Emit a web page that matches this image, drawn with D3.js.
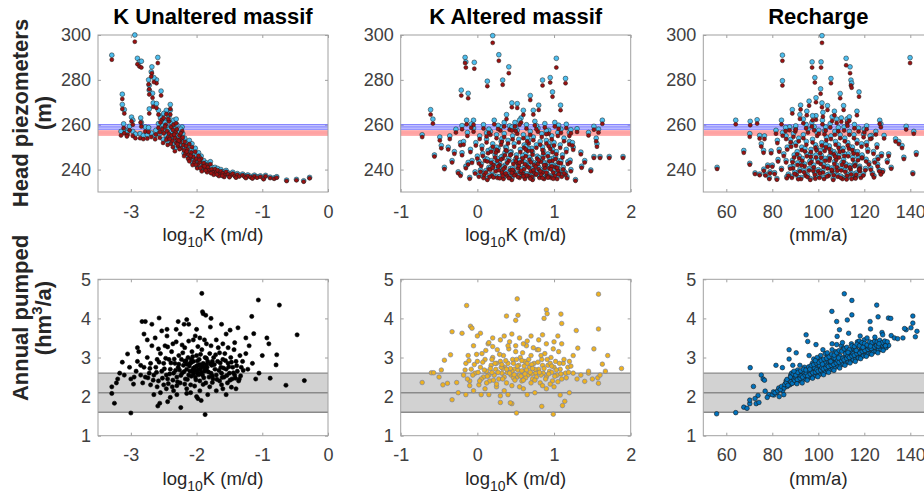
<!DOCTYPE html>
<html>
<head>
<meta charset="utf-8">
<script src="https://cdn.jsdelivr.net/npm/d3@7"></script>
<style>
  body { margin: 0; background: #fff; }
  svg { display: block; }
  text { font-family: "Liberation Sans", Arial, sans-serif; }
</style>
</head>
<body>
<svg id="chart" width="924" height="496"></svg>
<script>
// ----- data -----
// top row: [x, observed head, simulated head]
const kUnalteredHead = [
  [-3.29,291,289],[-2.94,300,297],[-2.90,289.6,287],[-2.87,288,286],[-2.84,288.3,285.5],[-2.59,290,287.5],
  [-2.68,285.8,283],[-2.69,283.6,281.5],[-2.73,280,278],[-2.61,280,278.5],[-2.72,277.6,275.8],[-2.65,281,279],
  [-2.54,275,273],[-2.67,274,272],[-2.72,275.4,273.5],[-2.66,269.7,268],[-2.61,269.4,267.5],[-3.13,273.6,271.5],
  [-3.13,269,267],[-3.10,266.7,265],[-2.40,269,267],[-2.40,266.4,264.5],[-2.46,266.4,264.8],[-2.58,266.4,264.5],
  [-2.53,264,262.2],[-2.72,267,265],[-2.99,263.4,261.5],[-2.97,262,260],[-2.85,263,261],[-2.84,261,259.2],
  [-3.11,260.4,258.5],[-3.02,259.3,257.5],[-3.10,258,256.2],[-3.05,257.2,255.5],[-2.97,257,255],[-2.78,259,257],
  [-2.73,258.7,256.8],[-2.86,256,254],[-2.81,255.2,253.6],[-2.63,255.2,253.5],[-2.56,256,254.2],[-3.06,256.5,254.8],
  [-2.93,255.8,254],[-2.75,255.5,253.8],[-2.69,256.3,254.5],[-3.15,257,255.2],
  [-2.55,263,261],[-2.52,260,258],[-2.50,258,256.2],[-2.50,265,263],[-2.47,262,260],[-2.45,259,257.2],
  [-2.44,256,254.3],[-2.42,263.5,261.5],[-2.42,258,256],[-2.39,261,259],[-2.38,257,255.2],[-2.37,254.5,252.8],
  [-2.36,259.5,257.6],[-2.35,262,260],[-2.33,256,254.2],[-2.32,258.5,256.6],[-2.31,253.5,251.8],[-2.30,260,258],
  [-2.29,255,253.3],[-2.28,252,250.4],[-2.26,257,255.2],[-2.25,254,252.3],[-2.24,251,249.5],[-2.23,255.5,253.8],
  [-2.22,259,257.2],[-2.20,252.5,250.9],[-2.19,250,248.5],[-2.18,254,252.4],[-2.17,248.5,247],[-2.16,252,250.5],
  [-2.14,250.5,249],[-2.12,248,246.6],[-2.11,253,251.4],[-2.10,246.5,245.2],[-2.08,249,247.6],[-2.07,251.5,250],
  [-2.05,247,245.7],[-2.03,245,243.8],[-2.02,249.5,248],[-2.00,246,244.8],[-1.98,243.5,242.4],[-1.97,247.5,246.2],
  [-1.95,244.5,243.3],[-1.93,246,244.8],[-1.91,242.5,241.5],[-1.89,244,242.9],[-1.87,241.5,240.6],[-1.85,243,242],
  [-1.83,242,241],[-1.81,240.5,239.7],[-1.79,243.5,242.4],[-1.77,241,240.1],[-1.75,239.5,238.8],[-1.72,241,240.2],
  [-1.70,239.5,238.8],[-1.68,240.5,239.7],[-1.65,238.5,237.9],[-1.63,240,239.3],[-1.60,239,238.4],[-1.57,238.2,237.6],
  [-1.55,239.6,239],[-1.52,238.5,237.9],[-1.48,238,237.5],[-1.45,238.8,238.2],[-1.42,237.6,237.1],[-1.38,238.2,237.7],
  [-1.35,237.4,236.9],[-1.30,238,237.5],[-1.27,237.3,236.8],[-1.22,237.6,237.1],[-1.18,237,236.6],[-1.12,237.5,237],
  [-1.08,236.8,236.4],[-1.03,237.2,236.8],[-0.88,236.6,236.2],[-0.82,236.3,235.9],[-0.78,236.8,236.4],
  [-0.63,235.3,234.9],[-0.48,235.6,235.2],[-0.37,235,234.6],[-0.28,236.5,236.1],
  [-2.48,261,259.2],[-2.43,264.5,262.6],[-2.34,257.5,255.6],[-2.27,254.5,252.9],[-2.21,256,254.3],[-2.15,249.5,248],
  [-2.09,247.5,246.1],[-2.04,244,242.9],[-1.96,245.5,244.3],[-1.88,242.5,241.5],[-2.36,251.5,250],[-2.56,258.5,256.6],
  [-2.62,257.5,255.6],[-2.51,253.5,251.9],[-2.44,252.5,251],[-2.33,249.5,248.2],[-2.26,250.5,249.1],[-2.13,246,244.8],
  [-2.06,243,242],[-1.99,241.5,240.6],[-1.92,240,239.2],[-1.84,239.5,238.8],[-1.74,238.3,237.7],[-1.66,237.6,237.1],
  [-1.58,237.2,236.7],[-2.58,260.5,258.6],[-2.46,255,253.3],[-2.39,253,251.5],[-2.31,262.5,260.6],[-2.24,258,256.2],
  [-2.41,255.2,253.6],[-2.29,252.8,251.3],[-2.19,247.3,246],[-2.11,244.8,243.7],[-2.01,243.1,242.1],[-1.94,241.6,240.7],
  [-1.86,240.4,239.6],[-1.78,239.1,238.4],[-1.69,238.4,237.8],[-1.61,237.7,237.2],[-1.5,237.1,236.6],[-1.4,236.9,236.4],
  [-1.25,236.6,236.2],[-1.15,236.4,236],[-0.98,236.1,235.7],[-0.95,237.4,237]
];

const kAlteredHead = [
  [-0.72,255.5,254.5],[-0.61,266.7,264.5],[-0.58,262.5,260.5],[-0.56,246.5,245.8],[-0.49,254.5,253],[-0.47,250.7,249.5],
  [-0.43,241,240.2],[-0.36,255,253.6],[-0.21,275.4,273],[-0.16,290,287.5],[-0.15,288,285.5],[-0.12,274,271.8],
  [-0.14,262,260.2],[-0.04,287.8,285],[-0.05,262,260],[0.13,279.4,277.2],[0.20,299.7,296.5],[0.28,291.2,288.5],
  [0.33,279.9,277.8],[0.41,285.8,283],[0.69,273,271],[0.85,279.9,277.5],[0.95,281,278.8],[0.98,274.6,272.5],
  [1.03,289.6,285.5],[1.085,268.7,266.5],[1.15,280.6,278.5],[0.45,269.7,267.8],[0.52,269.4,267.5],[0.80,268.7,266.6],
  [0.73,266.4,264.5],[0.60,266.4,264.4],[1.30,258.2,256.8],[1.52,259.3,257.8],[1.63,262,260.4],[1.58,258,256.5],
  [1.55,254,252.6],[1.56,251.5,250.2],[1.52,245.8,245.2],[1.60,245.8,245.2],[1.72,245.8,245.2],[1.90,245.8,245.2],
  [1.35,247.8,246.8],[1.48,239.8,239.3],[1.28,235.5,235],[1.36,241.5,240.8],[1.40,244,243.2],[1.25,250,248.8],
  [1.20,252.5,251.2],[1.45,256.5,255.2],[-0.30,248,247],[-0.33,244,243.2],[-0.25,239,238.4],[-0.22,252,250.8],
  [-0.28,258,256.5],[-0.38,250,249],
  [-0.22,238,237.2],[-0.2,247.5,246.4],[-0.18,252.5,251.1],[-0.15,241.5,240.6],[-0.13,256.5,255],[-0.1,236.5,235.9],
  [-0.09,249,247.8],[-0.07,244,243],[-0.05,258.5,256.9],[-0.03,239,238.2],[-0.02,252,250.7],[0.0,246,244.9],
  [0.02,237.5,236.8],[0.03,255,253.6],[0.05,242.5,241.6],[0.06,250.5,249.2],[0.08,260,258.3],[0.09,238.5,237.7],
  [0.1,245,243.9],[0.12,253.5,252.1],[0.13,236,235.4],[0.14,248.5,247.3],[0.15,241,240.1],[0.17,257,255.5],
  [0.18,244,243],[0.19,238,237.2],[0.2,251.5,250.2],[0.22,262,260.2],[0.23,246.5,245.4],[0.24,240,239.2],
  [0.25,255.5,254],[0.26,237,236.3],[0.27,249.5,248.3],[0.29,243,242],[0.3,259,257.4],[0.31,252.5,251.1],
  [0.32,239.5,238.7],[0.33,246,244.9],[0.34,236.5,235.8],[0.35,256,254.5],[0.36,242,241],[0.37,250,248.7],
  [0.38,264.5,262.5],[0.39,238,237.2],[0.4,253,251.6],[0.41,245,243.9],[0.42,259.5,257.8],[0.43,240.5,239.7],
  [0.44,248,246.8],[0.45,236,235.4],[0.46,255,253.5],[0.47,243.5,242.5],[0.48,251.5,250.2],[0.49,261,259.2],
  [0.5,238.5,237.7],[0.51,246.5,245.4],[0.52,257.5,256],[0.53,241.5,240.6],[0.54,253.5,252.1],[0.55,237,236.3],
  [0.56,249,247.8],[0.57,263,261],[0.58,244.5,243.5],[0.59,239,238.2],[0.6,255.5,254],[0.61,251,249.7],
  [0.62,236.5,235.8],[0.63,247,245.9],[0.64,260,258.3],[0.65,242.5,241.5],[0.66,238,237.2],[0.67,253,251.6],
  [0.68,245.5,244.4],[0.69,257,255.5],[0.7,240,239.2],[0.71,249.5,248.3],[0.72,236,235.4],[0.73,254.5,253.1],
  [0.74,243,242],[0.75,261.5,259.7],[0.76,238.5,237.7],[0.77,251,249.7],[0.78,246,244.9],[0.79,258.5,256.9],
  [0.8,241,240.1],[0.81,237,236.3],[0.82,252.5,251.1],[0.83,244.5,243.5],[0.84,256,254.5],[0.85,239.5,238.7],
  [0.86,248.5,247.3],[0.87,236.5,235.8],[0.88,260.5,258.8],[0.89,243,242],[0.9,253,251.6],[0.91,238,237.2],
  [0.92,247,245.9],[0.93,257.5,256],[0.94,241.5,240.6],[0.95,250.5,249.2],[0.96,237,236.3],[0.97,255,253.5],
  [0.98,245,243.9],[0.99,239.5,238.7],[1.0,252,250.7],[1.01,261,259.2],[1.02,242,241],[1.03,248,246.8],
  [1.04,236.5,235.8],[1.05,256.5,255],[1.06,244,243],[1.07,239,238.2],[1.08,251,249.7],[1.09,258,256.4],
  [1.1,237.5,236.8],[1.11,246.5,245.4],[1.12,241,240.1],[1.13,254,252.6],[1.15,238.5,237.7],[1.16,249,247.8],
  [1.18,243.5,242.5],[1.2,256.5,255],[1.22,240,239.2],[1.24,252,250.7],
  [0.11,239.5,238.7],[0.16,237.5,236.8],[0.21,243,242],[0.28,240.5,239.7],[0.33,238,237.2],[0.36,247.5,246.4],
  [0.42,237,236.3],[0.47,240,239.2],[0.52,244,243],[0.56,239.5,238.7],[0.61,241,240.1],[0.66,249.5,248.3],
  [0.71,237.5,236.8],[0.74,239.5,238.7],[0.79,243.5,242.5],[0.83,238.5,237.7],[0.88,241.5,240.6],[0.93,237.5,236.8],
  [0.97,242.5,241.5],[1.01,238,237.2],[1.05,240.5,239.7],[0.25,250,248.7],[0.45,259,257.4],[0.65,254,252.6],
  [0.85,250,248.7],[0.55,262,260],[0.35,261,259.2],[0.15,258,256.4],
  [-0.12,243.2,242.3],[0.04,239.8,239],[0.07,247.2,246.1],[0.13,244.6,243.6],[0.17,240.8,240],[0.21,237.2,236.5],
  [0.24,248.7,247.5],[0.27,242.3,241.4],[0.29,236.8,236.1],[0.31,245.6,244.5],[0.34,241.2,240.3],[0.37,239.1,238.3],
  [0.39,243.9,242.9],[0.41,236.9,236.2],[0.43,247.6,246.4],[0.46,240.7,239.9],[0.48,238.2,237.4],[0.5,244.8,243.8],
  [0.53,237.4,236.7],[0.54,242.6,241.7],[0.57,240.3,239.5],[0.59,246.2,245.1],[0.62,243.4,242.4],[0.64,238.1,237.4],
  [0.67,241.8,240.9],[0.69,236.7,236],[0.7,244.3,243.3],[0.73,240.6,239.8],[0.76,242.2,241.3],[0.77,238.8,238],
  [0.8,245.3,244.2],[0.82,240.1,239.3],[0.85,236.9,236.2],[0.87,242.9,242],[0.9,239.4,238.6],[0.92,237.1,236.4],
  [0.94,244.7,243.7],[0.96,240.9,240.1],[0.99,236.6,235.9],[1.02,245.8,244.7],[1.04,241.7,240.8],[1.06,238.7,237.9],
  [1.09,243.8,242.8],[1.13,239.2,238.4],[1.17,236.8,236.1],[1.21,244.2,243.2],[0.08,236.9,236.2],[0.2,241.7,240.8],
  [0.26,244.9,243.9],[0.45,239.3,238.5],[0.6,237.7,237],[0.72,247.8,246.6],[0.86,246.3,245.2],[0.98,248.9,247.7],
  [0.55,244.1,243.1],[0.38,249.6,248.4],[0.18,249.2,248],[0.02,243.7,242.7],[0.93,251.7,250.4],[0.63,250.2,249],
  [0.32,253.8,252.4],[0.12,256.3,254.8],[0.5,258.8,257.2],[0.77,259.6,258],[0.9,257.3,255.8],[1.06,259.8,258.2],
  [0.27,259.7,258.1],[-0.08,260.3,258.6],[1.16,260.2,258.5],[1.22,257.8,256.2],[-0.2,259.6,258]
];

const rechargeHead = [
  [56,241,240.3],[64.1,262,260.2],[67.6,248.5,247.5],[70.4,261.5,259.8],[70.2,256,254.6],[70.2,242.8,242.2],
  [73.4,262.2,260.5],[74.5,255.2,253.8],[75.2,251.5,250.3],[76.2,248.5,247.5],[76.6,255,253.6],[72.5,238.5,238],
  [74.5,238,237.5],[77,238,237.4],[78,242,241.3],[81.6,257.5,256],[84.4,291,288.5],[84.4,279.6,277.5],
  [84,262,260.2],[88.7,266.7,265],[92.3,268.7,266.8],[97.3,288,285.5],[98.5,281,278.8],[99,272,270],
  [101.2,288,285.5],[101.6,299.7,296.5],[101,276,273.8],[101.6,269.7,267.8],[105.5,280.6,278.5],[109.5,273.9,271.8],
  [112.1,289.6,286.5],[113.8,285.8,283],[114.2,279.9,277.5],[114.5,278.5,276.5],[117.7,274.6,272.5],[112.5,262.6,260.8],
  [116.8,266,264.2],[123.1,255.2,253.8],[126.7,262,260.4],[127.2,260.4,258.9],[128.6,255.2,253.9],[130.6,247,246.1],
  [131.7,241,240.4],[133.6,253.7,252.5],[135,252.5,251.4],[138.2,259.3,257.9],[137.2,245.5,244.7],[136.4,250.7,249.6],
  [139.9,289.9,287.5],[141.5,257,256],[141.1,238.5,238],[142.6,247.5,246.6],[80,242,241.3],[79,239,238.4],
  [82,236,235.5],[84,240.5,239.9],[86,244,243.2],[86.5,250,248.9],[88,253.5,252.2],[90,258.5,257],
  [92,264.5,262.6],[95,266,264.2],[96,270.5,268.5],[99,264,262.2],[102,265.5,263.6],[104,268.5,266.6],
  [107,266,264.2],[108,262.5,260.8],[110,263,261.3],[111,268.5,266.6],[113.5,263.5,261.8],[120,258,256.5],
  [121,252,250.8],[119,246,245],[122,243,242.3],[124,248,247],[125,257,255.6],[126,245.5,244.6],
  [128,239.5,238.9],[130,244,243.2],[118,240,239.3],[116,237,236.4],
  [88.5,237,236.3],[89,241.5,240.6],[89.5,246.5,245.4],[88.2,251.5,250.2],[89.2,256,254.6],[90.5,238.5,237.7],
  [91,243,242],[90.8,248,246.8],[91.5,254,252.6],[90.2,259.5,257.9],[92.5,236.5,235.8],[92,240,239.2],
  [93,245,243.9],[92.8,250,248.7],[93.5,255.5,254],[94.5,238,237.2],[94,242.5,241.5],[95,247,245.9],
  [94.8,252.5,251.1],[95.5,258,256.5],[96.5,236,235.4],[96,240.5,239.6],[97,244.5,243.4],[96.8,249,247.8],
  [97.5,253.5,252.1],[97.2,261,259.2],[98.5,238.5,237.7],[98,242,241],[99,246.5,245.4],[98.8,251,249.7],
  [99.5,256.5,255],[100.5,237,236.3],[100,240,239.2],[101,243.5,242.5],[100.8,248.5,247.3],[101.5,252,250.7],
  [100.2,257.5,256],[101.8,262,260.2],[102.5,236.5,235.8],[102,239.5,238.7],[103,245,243.9],[102.8,249.5,248.3],
  [103.5,254.5,253.1],[103.2,259,257.4],[104.5,238,237.2],[104,241.5,240.5],[105,246,244.9],[104.8,250.5,249.2],
  [105.5,255,253.6],[105.2,260.5,258.8],[106.5,236,235.4],[106,240,239.2],[107,243.5,242.5],[106.8,248,246.8],
  [107.5,252.5,251.1],[107.2,257,255.5],[108.5,237.5,236.8],[108,242,241],[109,246.5,245.4],[108.8,251,249.7],
  [109.5,255.5,254],[110.5,236.5,235.8],[110,240.5,239.6],[111,244.5,243.4],[110.8,249.5,248.3],[111.5,254,252.6],
  [111.2,259,257.4],[112.5,238,237.2],[112,242.5,241.5],[113,247,245.9],[112.8,252,250.7],[113.5,257,255.5],
  [114.5,236.5,235.8],[114,241,240.1],[115,245.5,244.4],[114.8,250,248.7],[115.5,255.5,254],[116.5,238.5,237.7],
  [116,243,242],[117,248,246.8],[116.8,253,251.6],[117.5,258.5,257],[118.5,237,236.3],[118,241.5,240.6],
  [119,246.5,245.4],[118.8,251.5,250.2],[85,247,246],[86,255,253.6],[87,238,237.3],[87.5,259,257.5],
  [83,249,248],[84.5,256.5,255.1],[82.5,244.5,243.6],[120.5,240.5,239.7],[121.5,249,247.9],[122.5,255,253.6],
  [123.5,238.5,237.8],[124.5,244,243.1],[125.5,251,249.8],[126.5,240,239.3],[127.5,247,246],[121,259.5,258],
  [97.5,264,262],[106,263.5,261.7],[93.5,262.5,260.7],
  [86.3,236.8,236.1],[87.8,241.2,240.4],[89.7,238.9,238.1],[91.3,236.4,235.7],[92.7,242.8,241.9],[93.8,239.6,238.8],
  [95.3,237.4,236.7],[96.3,243.7,242.7],[97.8,240.2,239.4],[98.7,236.6,235.9],[99.8,244.3,243.3],[100.7,239.1,238.3],
  [102.3,242.1,241.2],[103.8,237.6,236.9],[104.7,244.9,243.9],[105.8,240.7,239.9],[106.7,238.3,237.5],[107.8,245.4,244.3],
  [108.3,240.3,239.5],[109.7,237.1,236.4],[110.3,243.1,242.2],[111.7,239.8,239],[112.3,236.3,235.6],[113.7,241.9,241],
  [114.3,238.6,237.8],[115.8,242.4,241.5],[116.2,236.7,236],[117.8,240.9,240.1],[119.6,238.1,237.4],[120.8,244.6,243.6],
  [122.8,240.7,239.9],[124.2,237.2,236.5],[125.8,242.3,241.4],[127.2,238.5,237.8],[91.7,246.1,245],[94.2,249.3,248.1],
  [96.7,246.8,245.7],[99.2,249.8,248.6],[101.3,246.4,245.3],[103.3,251.3,250],[105.3,248.8,247.6],[107.3,246.9,245.8],
  [109.3,249.2,248],[111.3,247.1,246],[113.3,250.6,249.3],[115.3,248.3,247.2],[117.3,245.2,244.2],[88.8,244.2,243.3],
  [90.3,251.9,250.6],[102.7,257.2,255.7],[108.7,258.7,257.1],[98.2,259.1,257.5],[94.7,260.1,258.4],[112.7,261.3,259.5],
  [115.7,260.1,258.4],[119.7,255.8,254.4],[85.8,258.7,257.2],[82.2,253,251.8],[79.5,248.3,247.3],[78.7,236.4,235.8],
  [76.3,240.2,239.5],[81,238.6,238]
];

// bottom row: [x, annual pumped]
const kUnalteredPumped = [
  [-1.92,4.64],[-1.06,4.47],[-0.74,4.34],[-0.47,3.58],[-0.36,2.41],[-0.64,2.29],[-0.88,2.47],[-0.79,2.81],
  [-0.78,3.07],[-0.93,3.5],[-0.90,3.35],[-1.16,4.05],[-1.13,3.61],[-2.57,4.01],[-2.83,3.92],[-2.78,3.92],
  [-2.68,3.85],[-3.13,2.88],[-3.05,3.09],[-3.29,2.25],[-3.29,2.08],[-3.25,1.83],[-3.0,1.58],[-1.87,1.54],
  [-2.24,1.72],[-1.93,1.9],[-2.56,1.83],[-2.59,1.76],[-2.44,1.87],[-2.15,2.08],[-1.9,4.12],[-1.86,4.08],
  [-1.91,4.17],[-1.79,3.78],[-2.15,3.97],[-2.19,3.85],[-2.45,3.72],[-2.31,3.72],[-1.49,3.7],[-1.37,3.76],
  [-2.8,3.6],[-2.75,3.45],[-2.9,3.25],[-3.17,2.6],[-3.1,2.55],[-3.0,2.45],[-2.95,2.5],[-3.22,2.35],
  [-3.2,2.45],[-2.92,2.65],[-2.85,2.8],[-2.88,3.15],[-1.2,3.3],[-1.25,3.1],[-1.3,2.9],[-1.22,2.7],
  [-1.35,2.45],[-1.05,2.6],[-1.1,2.45],[-1.4,2.2],[-1.55,2.05],[-1.6,2.2],[-1.7,2.15],[-2.0,2.0],
  [-2.3,2.05],[-2.65,2.05],[-2.7,2.3],
  [-2.65,2.55],[-2.62,2.75],[-2.6,2.95],[-2.58,2.4],[-2.55,3.1],[-2.53,2.65],[-2.5,2.3],[-2.5,2.85],
  [-2.48,3.3],[-2.46,2.55],[-2.44,2.45],[-2.42,2.95],[-2.4,2.7],[-2.38,3.15],[-2.37,2.25],[-2.35,2.6],
  [-2.33,2.85],[-2.31,3.4],[-2.3,2.5],[-2.28,2.75],[-2.27,3.05],[-2.25,2.35],[-2.23,2.95],[-2.22,2.6],
  [-2.2,2.8],[-2.18,3.25],[-2.17,2.45],[-2.15,2.7],[-2.13,3.0],[-2.12,2.55],[-2.1,2.85],[-2.09,2.3],
  [-2.07,3.15],[-2.06,2.65],[-2.05,2.9],[-2.03,2.75],[-2.02,2.5],[-2.0,3.05],[-1.99,2.6],[-1.98,2.8],
  [-1.96,2.95],[-1.95,2.4],[-1.94,2.7],[-1.92,3.2],[-1.91,2.55],[-1.9,2.85],[-1.88,2.65],[-1.87,3.0],
  [-1.86,2.35],[-1.84,2.75],[-1.83,2.9],[-1.81,2.5],[-1.8,3.1],[-1.78,2.6],[-1.77,2.8],[-1.75,2.45],
  [-1.74,3.0],[-1.72,2.7],[-1.7,2.55],[-1.68,2.9],[-1.67,3.25],[-1.65,2.4],[-1.63,2.75],[-1.62,2.6],
  [-1.6,2.95],[-1.58,2.5],[-1.57,3.1],[-1.55,2.7],[-1.53,2.35],[-1.52,2.85],[-1.5,2.6],[-1.48,3.0],
  [-1.46,2.45],[-1.45,2.75],[-1.43,3.2],[-1.42,2.55],[-1.4,2.9],[-1.38,2.65],[-1.36,2.4],[-1.34,3.05],
  [-1.32,2.75],[-2.7,2.85],[-2.72,2.6],[-2.75,3.0],[-2.78,2.5],[-2.8,2.75],[-2.82,2.35],[-2.68,3.3],
  [-2.63,3.5],[-2.45,3.55],[-2.25,3.6],[-2.05,3.45],[-1.95,3.5],[-1.85,3.35],[-1.7,3.45],[-1.6,3.35],
  [-1.55,3.6],[-2.35,2.15],[-2.15,2.2],[-1.95,2.15],[-1.8,2.25],[-2.55,2.1],[-1.98,1.95],[-2.12,3.85],
  [-2.02,3.55],[-2.1,2.65],[-2.0,2.78],[-1.93,2.62],[-2.05,2.58],[-2.18,2.9],[-1.85,2.82],[-2.26,2.68],
  [-1.76,2.9],[-2.08,2.95],[-1.97,2.7],
  [-2.61,2.62],[-2.57,2.88],[-2.52,2.47],[-2.49,2.71],[-2.47,2.98],[-2.43,2.33],[-2.41,2.58],[-2.39,2.86],
  [-2.36,2.42],[-2.34,2.96],[-2.32,2.67],[-2.29,2.38],[-2.27,2.83],[-2.24,2.54],[-2.21,3.12],[-2.19,2.64],
  [-2.16,2.92],[-2.14,2.44],[-2.11,2.78],[-2.08,2.52],[-2.06,3.02],[-2.04,2.69],[-2.01,2.43],[-1.99,2.91],
  [-1.97,2.56],[-1.94,3.08],[-1.92,2.77],[-1.89,2.48],[-1.87,2.72],[-1.85,2.98],[-1.82,2.63],[-1.79,2.84],
  [-1.76,2.53],[-1.73,2.82],[-1.71,3.07],[-1.69,2.44],[-1.66,2.67],[-1.64,2.86],[-1.61,2.49],[-1.59,2.73],
  [-1.56,2.92],[-1.54,2.54],[-1.51,2.76],[-1.49,2.42],[-1.47,2.88],[-1.44,2.61],[-1.41,2.47],[-1.39,2.79],
  [-1.33,2.53],[-1.29,2.67],[-2.66,2.42],[-2.71,2.72],[-2.74,2.48],[-2.58,3.22],[-2.44,3.27],[-2.36,3.35],
  [-2.22,3.32],[-2.12,3.42],[-1.98,3.28],[-1.88,3.45],[-1.78,3.3],[-1.65,3.12],[-1.52,3.25],[-1.42,3.38],
  [-2.3,2.28],[-2.18,2.32],[-2.03,2.27],[-1.9,2.31],[-1.76,2.36],[-1.62,2.3],[-1.47,2.24],[-2.46,2.2],
  [-2.6,2.25],[-2.09,2.1],[-1.83,2.05],[-2.4,1.98],[-2.85,2.55],[-2.9,2.9],[-3.02,2.75],[-2.96,2.32],
  [-2.53,3.68],[-2.28,3.92],[-2.0,3.72],[-1.78,4.0],[-1.62,3.85],[-1.25,3.5],[-1.15,2.85],[-1.0,3.05],
  [-2.05,2.72],[-1.95,2.82],[-2.0,2.66],[-1.9,2.77],[-2.15,2.83],[-1.85,2.68],[-2.08,2.87],[-1.96,2.58]
];

const kAlteredPumped = [
  [-0.72,2.36],[-0.6,2.61],[-0.57,2.61],[-0.47,2.68],[-0.43,2.93],[-0.39,2.34],[-0.33,1.92],[-0.33,3.66],
  [-0.35,3.07],[-0.2,3.62],[-0.14,4.33],[-0.09,3.8],[-0.07,3.75],[0.04,3.62],[0.38,4.06],[0.52,4.5],
  [0.53,4.08],[0.5,3.95],[0.3,1.85],[0.45,1.82],[0.43,1.84],[0.51,1.58],[0.84,1.75],[0.99,1.55],
  [0.9,4.22],[0.91,4.12],[0.87,4.0],[1.09,4.11],[1.1,3.87],[1.08,2.04],[1.11,1.77],[1.14,1.88],
  [1.31,3.24],[1.4,2.39],[1.52,3.22],[1.58,4.62],[1.58,3.73],[1.57,2.48],[1.58,2.34],[1.7,3.05],
  [1.63,2.83],[1.88,2.72],[1.29,3.69],[-0.27,2.36],[-0.25,2.1],[-0.15,2.05],[0.05,2.05],[0.15,2.05],
  [-0.45,2.3],[-0.5,2.5],[1.25,2.6],[1.3,2.45],[1.35,2.55],[1.45,2.6],[1.5,2.45],[1.2,2.1],
  [1.2,2.9],[1.25,3.05],[1.45,2.65],[1.6,2.55],[1.67,2.65],[1.1,3.35],[1.05,3.55],
  [-0.18,2.55],[-0.15,2.85],[-0.12,3.05],[-0.1,2.4],[-0.08,2.7],[-0.05,3.3],[-0.03,2.6],[0.0,2.9],
  [0.02,2.3],[0.04,2.75],[0.06,3.1],[0.08,2.5],[0.1,2.95],[0.12,2.65],[0.14,3.35],[0.16,2.4],
  [0.18,2.8],[0.2,3.0],[0.22,2.55],[0.24,2.7],[0.26,3.2],[0.28,2.45],[0.3,2.9],[0.32,2.6],
  [0.34,3.05],[0.36,2.75],[0.38,2.35],[0.4,2.85],[0.42,3.4],[0.44,2.55],[0.46,2.95],[0.48,2.7],
  [0.5,3.15],[0.52,2.5],[0.54,2.8],[0.56,3.0],[0.58,2.4],[0.6,2.65],[0.62,2.9],[0.64,3.3],
  [0.66,2.55],[0.68,2.75],[0.7,3.05],[0.72,2.45],[0.74,2.85],[0.76,2.6],[0.78,3.2],[0.8,2.7],
  [0.82,2.35],[0.84,2.95],[0.86,2.6],[0.88,3.1],[0.9,2.5],[0.92,2.8],[0.94,2.65],[0.96,3.0],
  [0.98,2.4],[1.0,2.75],[1.02,2.9],[1.04,2.55],[1.06,3.15],[1.08,2.7],[1.1,2.45],[1.12,2.85],
  [1.15,2.6],[1.18,2.75],[0.05,2.45],[0.15,2.55],[0.25,2.85],[0.35,2.5],[0.45,2.65],[0.55,2.55],
  [0.65,2.85],[0.75,2.7],[0.85,2.8],[0.95,2.85],[0.3,3.45],[0.55,3.5],[0.7,3.55],[0.8,3.45],
  [0.45,3.6],[0.2,3.5],[0.0,3.55],[0.9,3.35],[0.1,2.2],[0.35,2.15],[0.6,2.2],[0.75,2.1],
  [0.9,2.2],[1.0,2.25],[0.4,2.05],[0.65,2.05],[-0.05,2.15],[0.25,2.25],[0.33,2.72],[0.58,2.92],
  [0.71,2.58],[0.47,2.48],[0.83,2.55],[0.19,2.62],[0.64,2.68],[0.97,2.62],
  [-0.16,2.68],[-0.13,2.45],[-0.11,2.92],[-0.06,2.55],[-0.04,2.82],[-0.01,3.08],[0.01,2.62],[0.03,2.4],
  [0.07,2.88],[0.09,2.68],[0.11,3.18],[0.13,2.52],[0.17,2.72],[0.19,2.95],[0.21,2.42],[0.23,2.85],
  [0.27,2.62],[0.29,3.08],[0.31,2.75],[0.33,2.45],[0.37,2.92],[0.39,2.62],[0.41,3.22],[0.43,2.72],
  [0.47,2.85],[0.49,2.42],[0.51,2.95],[0.53,2.68],[0.57,2.52],[0.59,3.12],[0.61,2.78],[0.63,2.48],
  [0.67,2.95],[0.69,2.62],[0.71,2.82],[0.73,3.25],[0.77,2.5],[0.79,2.88],[0.81,2.62],[0.83,3.05],
  [0.87,2.72],[0.89,2.45],[0.91,2.95],[0.93,2.58],[0.97,2.78],[0.99,3.22],[1.01,2.52],[1.03,2.68],
  [1.07,2.85],[1.09,2.58],[1.13,2.95],[1.16,2.48],[1.19,2.62],[1.22,2.78],[0.2,3.28],[0.4,3.3],
  [0.6,3.35],[0.8,3.2],[1.0,3.4],[0.5,3.3],[0.15,3.38],[0.35,3.55],[0.65,3.42],[0.85,3.58],
  [0.25,2.32],[0.45,2.28],[0.7,2.35],[0.95,2.32],[0.12,2.35],[0.55,2.25],[0.85,2.28],[1.05,2.38],
  [-0.1,2.28],[0.3,2.02],[0.6,2.42],[0.75,2.42],[0.42,2.6],[0.62,2.58],[0.52,2.78],[0.72,2.72],
  [0.32,2.82],[0.38,2.7],[0.58,2.66],[0.48,2.56]
];

const rechargePumped = [
  [55.8,1.56],[64.1,1.59],[67.6,1.73],[70.2,1.82],[70.2,1.91],[70.4,2.74],[71.8,2.26],[73.0,1.82],
  [73.8,2.03],[75.2,2.55],[76.0,2.45],[76.6,2.42],[74.2,1.85],[76.9,2.14],[80.7,2.04],[81.6,2.8],
  [84.4,2.74],[87.3,3.2],[88.9,2.8],[87.3,2.96],[90.4,3.12],[94.7,3.58],[95.4,3.41],[99,3.33],
  [98,2.96],[105.9,4.18],[108,3.33],[108.2,3.54],[108,3.92],[109.2,3.71],[111.3,4.63],[112.6,3.96],
  [113.2,3.62],[114.6,4.46],[114.6,4.09],[125.4,4.34],[126,4.04],[122.5,3.92],[122.7,3.73],[130.5,4.01],
  [131.5,4.0],[127.7,3.64],[131.7,3.56],[133.1,3.5],[134.5,3.48],[136.8,3.5],[140.3,3.76],[141.1,4.06],
  [141.1,3.88],[142.2,3.53],[142.9,3.67],[138.2,3.71],[137.5,3.74],[78.5,2.05],[77.8,1.98],[86,2.4],
  [84.5,2.15],[82,2.1],[85,2.05],[83,2.0],[72.5,1.95],[69,1.7],[117,3.4],[119,3.35],
  [120,3.45],[103,3.1],[104,3.0],[101,3.05],[106,3.2],[110,3.3],
  [80,2.05],[80.5,2.12],[81.2,2.1],[82.3,2.15],[82.8,2.22],[83.5,2.18],[84,2.26],[85.2,2.22],
  [85.7,2.32],[86.5,2.26],[87,2.35],[87.6,2.3],[88.2,2.33],[88.5,2.42],[89,2.36],[89.5,2.5],
  [90,2.38],[90.6,2.45],[91.2,2.4],[91.8,2.52],[92.3,2.42],[92.8,2.48],[93.4,2.44],[93.9,2.58],
  [94.5,2.46],[95,2.52],[95.6,2.48],[96.2,2.6],[96.7,2.5],[97.2,2.55],[97.8,2.52],[98.3,2.66],
  [98.8,2.54],[99.4,2.6],[100,2.55],[100.4,2.7],[100.9,2.58],[101.5,2.64],[102,2.6],[102.6,2.75],
  [103.1,2.63],[103.7,2.7],[104.2,2.66],[104.8,2.82],[105.3,2.69],[105.9,2.76],[106.4,2.72],[107,2.9],
  [107.5,2.75],[108.1,2.82],[108.6,2.78],[109.2,2.95],[109.7,2.8],[110.3,2.88],[110.8,2.84],[111.4,3.0],
  [111.9,2.86],[112.5,2.93],[113,2.89],[113.6,3.06],[114.1,2.91],[114.7,2.98],[115.2,2.94],[115.8,3.1],
  [116.3,2.96],[116.9,3.03],[117.4,2.99],[118,3.15],[118.5,3.01],[119.1,3.08],[119.6,3.04],[120.2,3.2],
  [120.7,3.06],[121.3,3.12],[121.8,3.09],[122.4,3.24],[122.9,3.11],[123.5,3.17],[124,3.14],[124.6,3.28],
  [125.1,3.16],[125.7,3.22],[126.2,3.19],[126.8,3.3],[127.3,3.21],[127.9,3.27],[128.4,3.23],[129,3.33],
  [129.5,3.25],[130.1,3.3],[101.2,2.8],[103.5,2.88],[106.5,2.98],[99.5,2.75],[97,2.7],[112,3.12],
  [115,3.22],[118.5,3.28],[109,3.05],[95.5,2.66],[92.5,2.6],[88,2.55],
  [85.4,2.31],[86.1,2.36],[86.8,2.29],[87.4,2.42],[88.1,2.38],[88.7,2.34],[89.3,2.45],[89.8,2.41],
  [90.4,2.48],[90.9,2.43],[91.5,2.56],[92.1,2.47],[92.6,2.53],[93.2,2.5],[93.7,2.62],[94.3,2.55],
  [94.8,2.6],[95.4,2.53],[96,2.66],[96.5,2.58],[97.1,2.64],[97.6,2.61],[98.2,2.74],[98.7,2.63],
  [99.3,2.69],[99.9,2.65],[100.5,2.8],[101,2.68],[101.6,2.74],[102.2,2.71],[102.7,2.86],[103.3,2.74],
  [103.9,2.8],[104.4,2.77],[105,2.93],[105.6,2.8],[106.1,2.86],[106.7,2.82],[107.3,2.98],[107.8,2.86],
  [108.4,2.92],[109,2.88],[109.5,3.04],[110.1,2.92],[110.6,2.98],[111.2,2.94],[111.8,3.1],[112.3,2.98],
  [112.9,3.04],[113.5,3.0],[114,3.16],[114.6,3.04],[115.2,3.1],[115.7,3.06],[116.3,3.22],[116.8,3.1],
  [117.4,3.16],[118,3.12],[118.6,3.27],[119.1,3.16],[119.7,3.22],[120.3,3.18],[121,3.3],[121.6,3.21],
  [122.2,3.26],[123,3.23],[123.7,3.34],[124.5,3.27],[125.3,3.31],[126.1,3.29],[127,3.36],[127.8,3.32],
  [128.7,3.34],[129.6,3.37],[130.6,3.31],[100.8,2.95],[104.2,3.05],[107.6,3.15],[111,3.24],[114.4,3.35],
  [117.8,3.42],[121.2,3.5],[97.4,2.85],[94,2.75],[91,2.68],[88.4,2.6],[102,3.2],[106,3.35],[99.5,3.0],
  [86.4,2.44],[87.9,2.5],[89.1,2.58],[90.2,2.55],[91.1,2.62],[92.4,2.66],[93.5,2.7],[94.6,2.68],
  [95.8,2.76],[96.9,2.79],[98,2.82],[99.1,2.86],[100.2,2.88],[101.3,2.92],[102.4,2.96],[103.6,2.98],
  [104.7,3.02],[105.8,3.08],[106.9,3.06],[108,3.12],[109.1,3.18],[110.2,3.16],[111.3,3.22],[112.4,3.26],
  [113.5,3.2],[114.6,3.3],[115.7,3.28],[116.8,3.34],[117.9,3.3],[119,3.38],[120.1,3.36],[121.2,3.32],
  [122.3,3.4],[123.4,3.38],[124.5,3.42],[125.6,3.4],[126.7,3.44],[127.8,3.38],[128.9,3.42],[130,3.4],
  [93,2.35],[95.2,2.42],[97.5,2.47],[99.8,2.51],[102.3,2.56],[104.5,2.62],[106.8,2.67],[109.3,2.73],
  [111.6,2.8],[113.8,2.86],[116.1,2.9],[118.4,2.97],[120.9,3.03],[123.2,3.08],[125.9,3.12],[128.2,3.18],
  [90.7,2.33],[96.3,2.7],[101.8,2.83],[105.4,2.9],[108.8,2.99],[112.9,3.13],[116.5,3.18],[119.4,3.26],
  [122.7,3.29],[126.4,3.35],[129.2,3.3],[98.7,2.92],[103.9,3.12],[110.5,3.38],[118.2,3.55],[124.6,3.52],
  [128,3.58],[92,2.8],[96,3.05],[89.4,2.65]
];

const headBlueLines = [260, 259, 258];
const headRedLines = [257.2, 256.3, 255.4];
const pumpBand = [1.6, 2.6];
const pumpMid = 2.1;

const titles = ["K Unaltered massif", "K Altered massif", "Recharge"];
const xDomains = [[-3.5, 0], [-1, 2], [50, 150]];
const xTickValues = [[-3, -2, -1, 0], [-1, 0, 1, 2], [60, 80, 100, 120, 140]];
const headTicks = [240, 260, 280, 300];
const pumpTicks = [1, 2, 3, 4, 5];

// ----- layout -----
const svg = d3.select("#chart");
const colLeft = [98, 400.7, 703.3];
const plotW = 230;
const rowTop = [35, 279.3];
const rowH = [157, 156.4];
const boxColor = "#a0a0a0";
const tickText = "#404040";

function drawPanel(col, row) {
  const left = colLeft[col], top = rowTop[row], h = rowH[row];
  const g = svg.append("g").attr("transform", "translate(" + left + "," + top + ")");
  const x = d3.scaleLinear().domain(xDomains[col]).range([0, plotW]);
  const y = d3.scaleLinear().domain(row === 0 ? [230, 300] : [1, 5]).range([h, 0]);
  const yTicks = row === 0 ? headTicks : pumpTicks;
  const fmt = d => String(d);

  // axes with inward ticks
  const ax = [
    [d3.axisBottom(x).tickValues(xTickValues[col]).tickFormat(fmt).tickSize(-3).tickPadding(13), h, 0],
    [d3.axisTop(x).tickValues(xTickValues[col]).tickFormat("").tickSize(-3), 0, 0],
    [d3.axisLeft(y).tickValues(yTicks).tickFormat(fmt).tickSize(-3).tickPadding(7), 0, 0],
    [d3.axisRight(y).tickValues(yTicks).tickFormat("").tickSize(-3), 0, plotW]
  ];
  ax.forEach(a => {
    const ag = g.append("g").attr("transform", "translate(" + a[2] + "," + a[1] + ")").call(a[0]);
    ag.select(".domain").remove();
    ag.selectAll("line").attr("stroke", boxColor);
    ag.selectAll("text").attr("fill", tickText).style("font-size", "18px")
      .style("font-family", "'Liberation Sans', Arial, sans-serif");
  });

  if (row === 0) {
    // head reference bands
    g.append("rect").attr("x", 0).attr("width", plotW)
      .attr("y", y(headBlueLines[0])).attr("height", y(headBlueLines[2]) - y(headBlueLines[0]))
      .attr("fill", "rgba(90,90,255,0.22)");
    g.append("rect").attr("x", 0).attr("width", plotW)
      .attr("y", y(headRedLines[0])).attr("height", y(headRedLines[2]) - y(headRedLines[0]))
      .attr("fill", "rgba(255,80,80,0.2)");
    g.selectAll(".bl").data(headBlueLines).enter().append("line")
      .attr("x1", 0).attr("x2", plotW).attr("y1", d => y(d)).attr("y2", d => y(d))
      .attr("stroke", "#6a6aff").attr("stroke-width", 1);
    g.selectAll(".rl").data(headRedLines).enter().append("line")
      .attr("x1", 0).attr("x2", plotW).attr("y1", d => y(d)).attr("y2", d => y(d))
      .attr("stroke", "#ff6b6b").attr("stroke-width", 1);
  } else {
    // pumped reference band
    g.append("rect").attr("x", 0).attr("width", plotW)
      .attr("y", y(pumpBand[1])).attr("height", y(pumpBand[0]) - y(pumpBand[1]))
      .attr("fill", "#d2d2d2");
    g.selectAll(".pl").data([pumpBand[0], pumpMid, pumpBand[1]]).enter().append("line")
      .attr("x1", 0).attr("x2", plotW).attr("y1", d => y(d)).attr("y2", d => y(d))
      .attr("stroke", "#8a8a8a").attr("stroke-width", 1.4);
  }

  // box
  g.append("rect").attr("width", plotW).attr("height", h)
    .attr("fill", "none").attr("stroke", boxColor).attr("stroke-width", 1);

  return { g, x, y, h };
}

// ----- top row: head piezometers -----
[kUnalteredHead, kAlteredHead, rechargeHead].forEach((data, col) => {
  const p = drawPanel(col, 0);
  p.g.append("g").selectAll("circle").data(data).enter().append("circle")
    .attr("cx", d => p.x(d[0])).attr("cy", d => p.y(d[1])).attr("r", 2.4)
    .attr("fill", "#4dbeee").attr("stroke", "#1a1a1a").attr("stroke-width", 0.5);
  p.g.append("g").selectAll("circle").data(data).enter().append("circle")
    .attr("cx", d => p.x(d[0])).attr("cy", d => p.y(d[2])).attr("r", 2.0)
    .attr("fill", "#9b1111").attr("stroke", "#1a1a1a").attr("stroke-width", 0.5);
});

// ----- bottom row: annual pumped -----
const pumpStyles = [
  { fill: "#000000", stroke: "#000000", r: 2.1 },
  { fill: "#edb120", stroke: "#6c7aa8", r: 2.3 },
  { fill: "#0072bd", stroke: "#1a1a1a", r: 2.3 }
];
[kUnalteredPumped, kAlteredPumped, rechargePumped].forEach((data, col) => {
  const p = drawPanel(col, 1);
  const s = pumpStyles[col];
  p.g.append("g").selectAll("circle").data(data).enter().append("circle")
    .attr("cx", d => p.x(d[0])).attr("cy", d => p.y(d[1])).attr("r", s.r)
    .attr("fill", s.fill).attr("stroke", s.stroke).attr("stroke-width", 0.6);
});

// ----- titles -----
titles.forEach((t, i) => {
  svg.append("text").attr("x", colLeft[i] + plotW / 2).attr("y", 24)
    .attr("text-anchor", "middle").style("font-size", "22px").style("font-weight", "bold")
    .attr("fill", "#000").text(t);
});

// ----- x labels -----
[241, 485].forEach(base => {
  [0, 1, 2].forEach(col => {
    const t = svg.append("text").attr("x", colLeft[col] + plotW / 2).attr("y", base)
      .attr("text-anchor", "middle").style("font-size", "18.5px").attr("fill", "#262626");
    if (col < 2) {
      t.append("tspan").text("log");
      t.append("tspan").attr("dy", 6).style("font-size", "14px").text("10");
      t.append("tspan").attr("dy", -6).text("K (m/d)");
    } else {
      t.text("(mm/a)");
    }
  });
});

// ----- y labels -----
function yLabel(cy, lines) {
  lines.forEach(l => {
    const t = svg.append("text")
      .attr("transform", "translate(" + l.x + "," + cy + ") rotate(-90)")
      .attr("text-anchor", "middle").style("font-size", "22px").style("font-weight", "bold")
      .attr("fill", "#262626");
    l.parts.forEach(p => {
      const s = t.append("tspan").text(p.t);
      if (p.sup) s.attr("dy", -9).style("font-size", "15px");
      if (p.after) s.attr("dy", 9);
    });
  });
}
yLabel(113, [
  { x: 28, parts: [{ t: "Head piezometers" }] },
  { x: 51, parts: [{ t: "(m)" }] }
]);
yLabel(318, [
  { x: 28, parts: [{ t: "Annual pumped" }] },
  { x: 51, parts: [{ t: "(hm" }, { t: "3", sup: true }, { t: "/a)", after: true }] }
]);
</script>
</body>
</html>
